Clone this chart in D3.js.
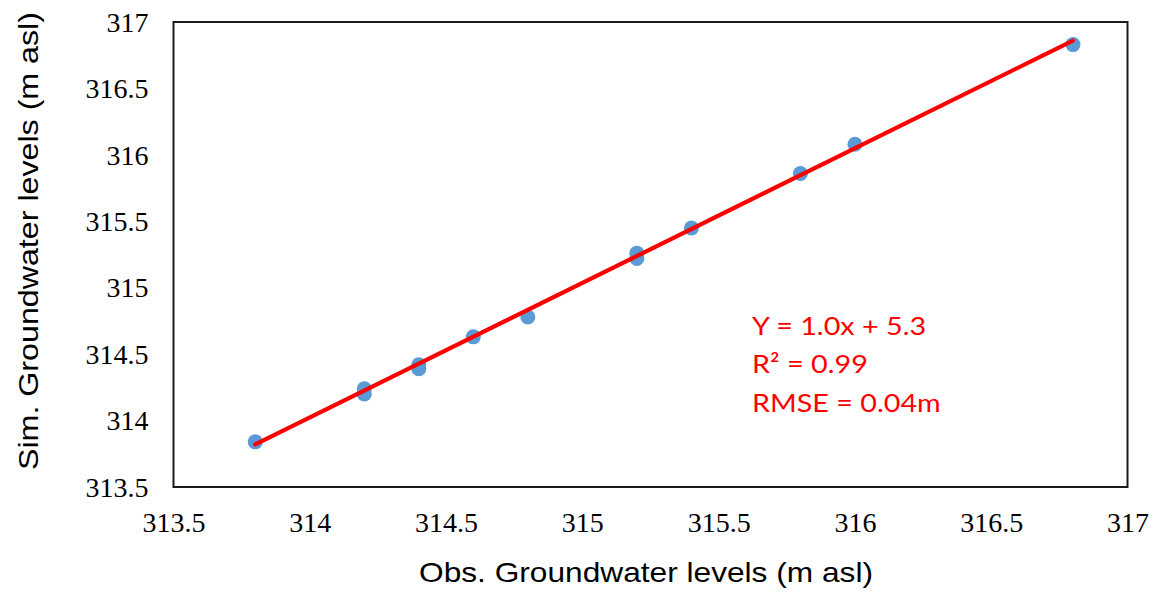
<!DOCTYPE html>
<html>
<head>
<meta charset="utf-8">
<script src="https://cdn.jsdelivr.net/npm/d3@7"></script>
<style>
  html, body { margin: 0; padding: 0; background: #fff; }
  svg { display: block; }
</style>
</head>
<body>
<svg id="chart" width="1153" height="594"></svg>
<script>
// ---- data ----
const obsLevels = [313.8, 314.2, 314.2, 314.4, 314.4, 314.6, 314.8, 315.2, 315.2, 315.4, 315.8, 316.0, 316.8];
const simLevels = [313.84, 314.24, 314.20, 314.42, 314.39, 314.63, 314.78, 315.26, 315.22, 315.45, 315.86, 316.08, 316.83];
const fitLineX = [313.8, 316.8];
const fitLineY = [313.82, 316.86];
const xTicks = [313.5, 314, 314.5, 315, 315.5, 316, 316.5, 317];
const xTickLabels = ["313.5", "314", "314.5", "315", "315.5", "316", "316.5", "317"];
const yTicks = [313.5, 314, 314.5, 315, 315.5, 316, 316.5, 317];
const yTickLabels = ["313.5", "314", "314.5", "315", "315.5", "316", "316.5", "317"];
const annotationLines = ["Y = 1.0x + 5.3", "R\u00B2 = 0.99", "RMSE = 0.04m"];
const xTitle = "Obs. Groundwater levels (m asl)";
const yTitle = "Sim. Groundwater levels (m asl)";

// ---- layout ----
const svg = d3.select("#chart");
const plot = { left: 173.5, right: 1127.5, top: 22, bottom: 487 };

const x = d3.scaleLinear().domain([313.5, 317]).range([plot.left, plot.right]);
const y = d3.scaleLinear().domain([313.5, 317]).range([plot.bottom, plot.top]);

const serif = "'Liberation Serif', 'Times New Roman', serif";
const sans = "'Liberation Sans', Arial, sans-serif";

// axes (labels only, no tick marks)
const xAxis = d3.axisBottom(x).tickValues(xTicks)
  .tickFormat((d, i) => xTickLabels[i]).tickSize(0);
const gx = svg.append("g").attr("transform", `translate(0,${plot.bottom})`).call(xAxis);
gx.select(".domain").remove();
gx.selectAll("text").attr("font-family", serif)
  .attr("font-size", 28).attr("fill", "#000").attr("dy", 0).attr("y", 45);

const yAxis = d3.axisLeft(y).tickValues(yTicks)
  .tickFormat((d, i) => yTickLabels[i]).tickSize(0).tickPadding(25);
const gy = svg.append("g").attr("transform", `translate(${plot.left},0)`).call(yAxis);
gy.select(".domain").remove();
gy.selectAll("text").attr("font-family", serif)
  .attr("font-size", 28).attr("fill", "#000").attr("dy", "0.33em");

// frame
svg.append("rect")
  .attr("x", plot.left).attr("y", plot.top)
  .attr("width", plot.right - plot.left).attr("height", plot.bottom - plot.top)
  .attr("fill", "none").attr("stroke", "#1a1a1a").attr("stroke-width", 2);

// points
svg.append("g").selectAll("circle")
  .data(obsLevels.map((o, i) => [o, simLevels[i]]))
  .join("circle")
  .attr("cx", d => x(d[0])).attr("cy", d => y(d[1])).attr("r", 7.5)
  .attr("fill", "#5B9BD5");

// fit line
const line = d3.line().x(d => x(d[0])).y(d => y(d[1]));
svg.append("path")
  .datum(fitLineX.map((v, i) => [v, fitLineY[i]]))
  .attr("d", line).attr("fill", "none")
  .attr("stroke", "#FF0000").attr("stroke-width", 4.2).attr("stroke-linecap", "round");

// annotation (slightly wide face, like the original)
svg.append("g")
  .attr("transform", "translate(752,0) scale(1.15,1)")
  .selectAll("text")
  .data(annotationLines).join("text")
  .attr("x", 0).attr("y", (d, i) => 335 + i * 38.5)
  .attr("font-family", "Lato, 'Open Sans', sans-serif").attr("font-size", 25)
  .attr("fill", "#FF0000").text(d => d);

// titles
svg.append("text")
  .attr("x", 419).attr("y", 582)
  .attr("textLength", 454).attr("lengthAdjust", "spacingAndGlyphs")
  .attr("font-family", sans).attr("font-size", 28)
  .attr("fill", "#000").text(xTitle);

svg.append("text")
  .attr("transform", "translate(38,470) rotate(-90)")
  .attr("textLength", 458).attr("lengthAdjust", "spacingAndGlyphs")
  .attr("font-family", sans).attr("font-size", 28)
  .attr("fill", "#000").text(yTitle);
</script>
</body>
</html>
